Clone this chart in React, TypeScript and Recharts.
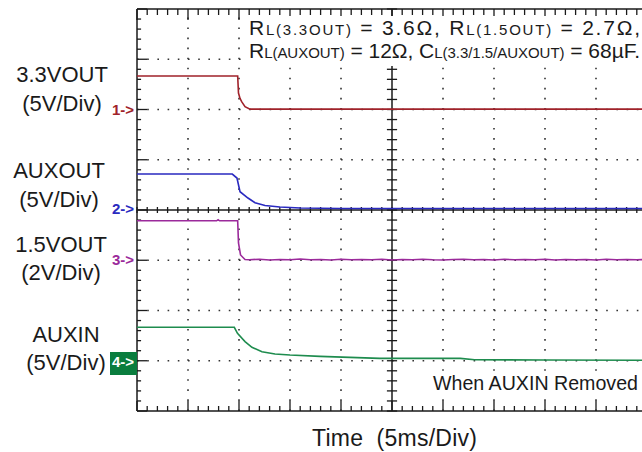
import { LineChart, Line, XAxis, YAxis, ReferenceLine } from "recharts";

// time in ms (5 ms/div), voltages in volts per channel
const ch1Time = [0, 9.87, 9.95, 10.1, 10.26, 10.59, 11.08, 50];
const ch1Volt = [3.33, 3.33, 1.64, 1.1, 0.78, 0.28, 0.04, 0.04];

const ch2Time = [0, 9.34, 9.8, 10.1, 10.88, 11.57, 12.55, 14.0, 16.0, 20, 50];
const ch2Volt = [3.58, 3.58, 3.18, 1.82, 1.19, 0.73, 0.45, 0.3, 0.2, 0.15, 0.15];

const ch3Time = [
  0, 7.8, 7.95, 8.1, 9.87, 9.95, 10.15, 10.59, 11, 12, 13, 14, 15, 16, 17, 18, 19, 20, 21, 22, 23, 24,
  25, 26, 27, 28, 29, 30, 31, 32, 33, 34, 35, 36, 37, 38, 39, 40, 41, 42, 43, 44, 45, 46, 47, 48, 49, 50,
];
const ch3Volt = [
  1.57, 1.57, 1.61, 1.57, 1.57, 0.69, 0.21, 0.03, 0.02, 0.04, 0.01, 0.03, 0.02, 0.05, 0.02, 0.03, 0.01,
  0.04, 0.02, 0.03, 0.02, 0.04, 0.01, 0.03, 0.02, 0.04, 0.02, 0.01, 0.03, 0.04, 0.02, 0.03, 0.01, 0.04,
  0.02, 0.03, 0.02, 0.04, 0.01, 0.03, 0.02, 0.03, 0.01, 0.04, 0.02, 0.03, 0.02, 0.03,
];

const ch4Time = [0, 9.54, 9.85, 10.59, 11.27, 12.25, 13.53, 15.0, 17.94, 23.8, 31.7, 33.1, 40, 49.3, 50];
const ch4Volt = [3.33, 3.33, 2.73, 1.9, 1.34, 0.9, 0.67, 0.57, 0.44, 0.24, 0.24, 0.1, 0.08, 0.05, 0.05];

// channel scales: volts per division and ground position (divisions from bottom)
const voltsPerDiv = [5, 5, 2, 5];
const groundDiv = [6, 4, 3, 1];
const traceColors = ["#a0222a", "#2a2ac0", "#9b2a9b", "#1e8c4e"];

const channelLabels = ["3.3VOUT", "AUXOUT", "1.5VOUT", "AUXIN"];
const channelScales = ["(5V/Div)", "(5V/Div)", "(2V/Div)", "(5V/Div)"];

const zip = (t: number[], v: number[]) => t.map((x, i) => ({ t: x, v: v[i] }));
const traces = [zip(ch1Time, ch1Volt), zip(ch2Time, ch2Volt), zip(ch3Time, ch3Volt), zip(ch4Time, ch4Volt)];

// screen frame in divisions: 10 x 8
const frameDiv = [
  { t: 0, d: 0 },
  { t: 50, d: 8 },
];

const majorX = [5, 10, 15, 20, 30, 35, 40, 45];
const majorY = [1, 2, 3, 5, 6, 7];
const minorX = Array.from({ length: 51 }, (_, i) => i);
const minorY = Array.from({ length: 41 }, (_, i) => +(i * 0.2).toFixed(1));

const FONT = "Arial, 'Liberation Sans', sans-serif";
const INK = "#1a1a1a";

function seg(key: string, x1: number, y1: number, x2: number, y2: number, w = 1.3) {
  return (
    <ReferenceLine
      key={key}
      xAxisId="t"
      yAxisId="div"
      segment={[{ x: x1, y: y1 }, { x: x2, y: y2 }]}
      stroke={INK}
      strokeWidth={w}
      ifOverflow="visible"
    />
  );
}

export default function App() {
  const ticks: React.ReactNode[] = [];
  minorX.forEach((m) => {
    const major = m % 5 === 0;
    ticks.push(seg(`tt${m}`, m, 8, m, major ? 7.78 : 7.88));
    ticks.push(seg(`tb${m}`, m, 0, m, major ? 0.2 : 0.1));
    ticks.push(seg(`tc${m}`, m, 3.94, m, 4.06));
  });
  minorY.forEach((d, i) => {
    const major = i % 5 === 0;
    ticks.push(seg(`tl${i}`, 0, d, major ? 1 : 0.4, d));
    ticks.push(seg(`tm${i}`, 24.5, d, 25.5, d));
  });

  return (
    <div style={{ position: "absolute", left: 0, top: 0, width: 642, height: 452, overflow: "hidden", background: "#fff" }}>
      <LineChart width={700} height={452} margin={{ top: 9, right: 53, bottom: 41, left: 137 }}>
        <XAxis xAxisId="t" dataKey="t" type="number" domain={[0, 50]} hide allowDataOverflow />
        <YAxis yAxisId="div" type="number" domain={[0, 8]} hide allowDataOverflow />
        {voltsPerDiv.map((vpd, i) => (
          <YAxis
            key={`y${i}`}
            yAxisId={`ch${i}`}
            type="number"
            domain={[-groundDiv[i] * vpd, (8 - groundDiv[i]) * vpd]}
            hide
            allowDataOverflow
          />
        ))}
        {/* invisible helper so the division axis has data */}
        <Line
          data={frameDiv}
          dataKey="d"
          xAxisId="t"
          yAxisId="div"
          stroke="none"
          dot={false}
          activeDot={false}
          isAnimationActive={false}
        />
        {majorY.map((d) => (
          <ReferenceLine key={`gy${d}`} xAxisId="t" yAxisId="div" y={d} stroke="#333" strokeWidth={1.6} strokeDasharray="1.6 8.6" />
        ))}
        {majorX.map((m) => (
          <ReferenceLine key={`gx${m}`} xAxisId="t" yAxisId="div" x={m} stroke="#333" strokeWidth={1.6} strokeDasharray="1.6 8.45" />
        ))}
        <ReferenceLine xAxisId="t" yAxisId="div" y={4} stroke={INK} strokeWidth={1.5} />
        <ReferenceLine xAxisId="t" yAxisId="div" x={25} stroke={INK} strokeWidth={1.5} />
        <ReferenceLine xAxisId="t" yAxisId="div" y={8} stroke={INK} strokeWidth={1.5} />
        <ReferenceLine xAxisId="t" yAxisId="div" y={0} stroke={INK} strokeWidth={1.5} />
        <ReferenceLine xAxisId="t" yAxisId="div" x={0} stroke={INK} strokeWidth={1.5} />
        {ticks}
        {traces.map((data, i) => (
          <Line
            key={`l${i}`}
            data={data}
            dataKey="v"
            xAxisId="t"
            yAxisId={`ch${i}`}
            type="linear"
            stroke={traceColors[i]}
            strokeWidth={1.6}
            dot={false}
            isAnimationActive={false}
          />
        ))}
      </LineChart>
      <svg width={642} height={452} style={{ position: "absolute", left: 0, top: 0, pointerEvents: "none" }} fontFamily={FONT}>
        <rect x={245} y={16} width={397} height={50} fill="#fff" />
        <rect x={429} y={371} width={213} height={25} fill="#fff" />
        <text x={249} y={35} fontSize={21} fill={INK} textLength={391} lengthAdjust="spacing">
          <tspan>R</tspan>
          <tspan fontSize={15}>L(3.3OUT)</tspan>
          <tspan> = 3.6Ω, R</tspan>
          <tspan fontSize={15}>L(1.5OUT)</tspan>
          <tspan> = 2.7Ω,</tspan>
        </text>
        <text x={249} y={58} fontSize={21} fill={INK} textLength={391} lengthAdjust="spacing">
          <tspan>R</tspan>
          <tspan fontSize={15}>L(AUXOUT)</tspan>
          <tspan> = 12Ω, C</tspan>
          <tspan fontSize={15}>L(3.3/1.5/AUXOUT)</tspan>
          <tspan> = 68µF.</tspan>
        </text>
        {channelLabels.map((name, i) => {
          const cx = [62, 59, 61, 66][i];
          const y1 = [82, 178, 252, 342][i];
          const y2 = [111, 207, 280, 370][i];
          return (
            <g key={name} fill={INK} fontSize={22} textAnchor="middle">
              <text x={cx} y={y1}>{name}</text>
              <text x={cx} y={y2}>{channelScales[i]}</text>
            </g>
          );
        })}
        <text x={112} y={115} fontSize={15} fontWeight="bold" fill={traceColors[0]}>1-&gt;</text>
        <text x={112} y={214} fontSize={15} fontWeight="bold" fill={traceColors[1]}>2-&gt;</text>
        <text x={112} y={265} fontSize={15} fontWeight="bold" fill={traceColors[2]}>3-&gt;</text>
        <rect x={110} y={352} width={27} height={23} fill="#0a7d3e" />
        <text x={112} y={367} fontSize={15} fontWeight="bold" fill="#fff">4-&gt;</text>
        <text x={433} y={390} fontSize={19.5} fill={INK} textLength={205} lengthAdjust="spacingAndGlyphs">When AUXIN Removed</text>
        <text x={312} y={446} fontSize={23} fill={INK} textLength={165} lengthAdjust="spacing" style={{ whiteSpace: "pre" }}>Time  (5ms/Div)</text>
      </svg>
    </div>
  );
}
